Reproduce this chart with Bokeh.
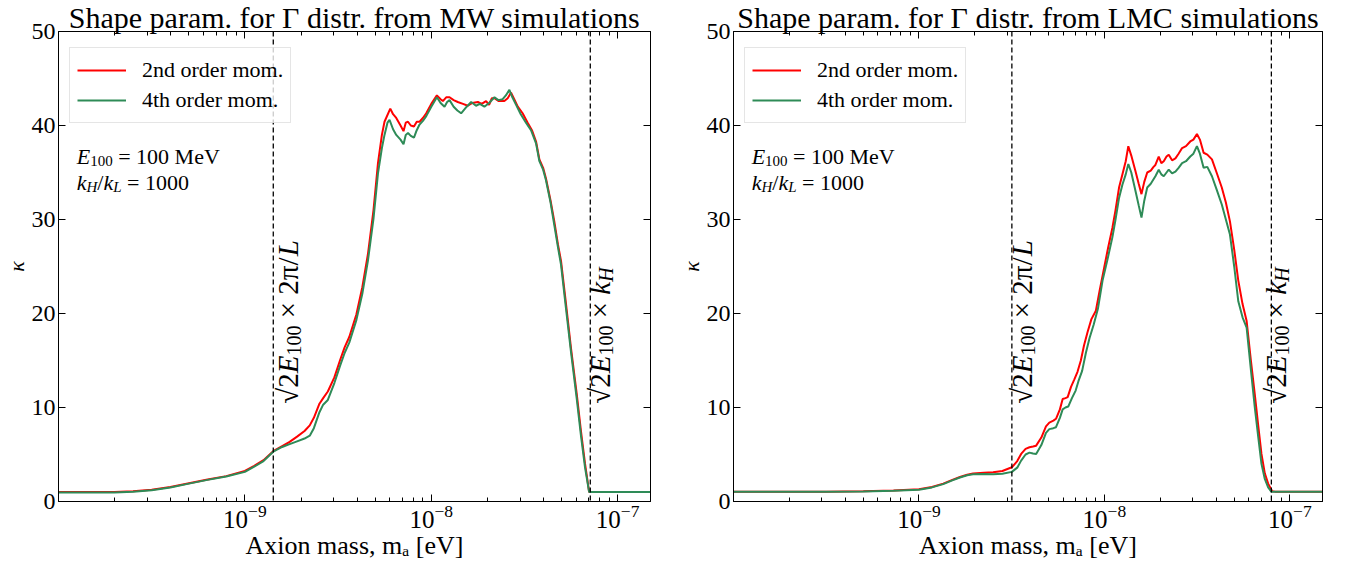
from bokeh.plotting import figure
from bokeh.models import FixedTicker, LogAxis, LinearAxis, Span, Label, Legend, LegendItem
from bokeh.layouts import row
from bokeh.embed import file_html
from bokeh.resources import INLINE

FONT = "Liberation Serif"
RED = "#ff0000"
GREEN = "#2e8b57"

# ---------------- data ----------------
X_START, X_END = 1e-10, 1.5e-7
X_MAJOR = [1e-9, 1e-8, 1e-7]
X_MINOR = [k * 1e-10 for k in range(2, 10)] + [k * 1e-9 for k in range(2, 10)] + \
          [k * 1e-8 for k in range(2, 10)]
Y_TICKS = [0, 10, 20, 30, 40, 50]

TITLES = ["Shape param. for \u0393 distr. from MW simulations",
          "Shape param. for \u0393 distr. from LMC simulations"]
X_LABEL = "Axion mass, m\u2090 [eV]"
Y_LABEL = "\u03ba"

# MW panel (log10 of axion mass in eV, kappa)
mw_red_logm = [-10.0, -9.8, -9.7, -9.6, -9.5, -9.4, -9.3, -9.2, -9.1, -9.0, -8.95, -8.9, -8.848,
               -8.80, -8.76, -8.72, -8.68, -8.652, -8.63, -8.60, -8.58, -8.555, -8.52, -8.49,
               -8.465, -8.44, -8.402, -8.37, -8.34, -8.31, -8.286, -8.265, -8.251, -8.22, -8.205,
               -8.188, -8.165, -8.149, -8.137, -8.125, -8.11, -8.093, -8.078, -8.063, -8.045,
               -8.027, -8.0, -7.97, -7.95, -7.938, -7.92, -7.902, -7.88, -7.858, -7.83, -7.804,
               -7.78, -7.75, -7.73, -7.706, -7.69, -7.675, -7.661, -7.64, -7.608, -7.59, -7.572,
               -7.555, -7.536, -7.51, -7.483, -7.46, -7.438, -7.42, -7.40, -7.385, -7.36, -7.34,
               -7.32, -7.304, -7.28, -7.251, -7.22, -7.197, -7.175, -7.153, -7.14, -6.82]
mw_red_k = [1.0, 1.0, 1.02, 1.08, 1.25, 1.55, 1.95, 2.35, 2.7, 3.25, 3.8, 4.4, 5.35,
            5.9, 6.35, 6.9, 7.5, 8.1, 8.9, 10.4, 11.0, 11.7, 13.2, 15.0,
            16.4, 17.5, 19.9, 22.8, 26.3, 31.0, 36.0, 39.0, 40.4, 41.8, 41.2,
            40.8, 40.0, 39.4, 40.3, 40.4, 40.0, 39.9, 40.4, 40.4, 40.8,
            41.3, 42.3, 43.2, 42.8, 42.6, 43.0, 43.0, 42.7, 42.5, 42.3, 42.1,
            42.4, 42.5, 42.3, 42.6, 42.2, 42.9, 42.9, 42.6, 42.6, 42.9, 43.5,
            42.8, 42.0, 41.3, 40.3, 39.5, 38.3, 36.4, 35.5, 34.4, 32.0, 29.8,
            27.3, 25.6, 21.5, 16.4, 11.5, 7.5, 4.0, 1.0, 1.0, 1.0]

mw_green_logm = [-10.0, -9.8, -9.7, -9.6, -9.5, -9.4, -9.3, -9.2, -9.1, -9.0, -8.95, -8.9, -8.848,
                 -8.80, -8.76, -8.72, -8.68, -8.652, -8.63, -8.60, -8.58, -8.555, -8.52, -8.49,
                 -8.465, -8.44, -8.402, -8.37, -8.34, -8.31, -8.286, -8.265, -8.251, -8.235, -8.224,
                 -8.205, -8.188, -8.165, -8.149, -8.137, -8.125, -8.11, -8.093, -8.078, -8.063,
                 -8.045, -8.027, -8.0, -7.97, -7.95, -7.929, -7.915, -7.902, -7.88, -7.86, -7.84,
                 -7.81, -7.786, -7.76, -7.74, -7.715, -7.69, -7.661, -7.64, -7.617, -7.60, -7.581,
                 -7.565, -7.545, -7.52, -7.492, -7.465, -7.438, -7.42, -7.40, -7.385, -7.36, -7.34,
                 -7.32, -7.304, -7.28, -7.251, -7.22, -7.197, -7.175, -7.153, -7.14, -6.82]
mw_green_k = [0.95, 0.95, 0.97, 1.03, 1.2, 1.5, 1.9, 2.3, 2.65, 3.15, 3.7, 4.3, 5.3,
              5.8, 6.1, 6.4, 6.7, 7.0, 7.8, 9.5, 10.3, 10.8, 12.6, 14.4,
              15.8, 16.9, 19.3, 22.1, 25.6, 30.1, 34.9, 37.6, 39.0, 40.3, 40.6,
              39.6, 39.0, 38.5, 38.0, 39.0, 39.2, 38.9, 38.7, 39.5, 40.1,
              40.5, 41.0, 42.0, 43.0, 42.4, 42.0, 42.5, 42.7, 42.0, 41.6, 41.3,
              42.0, 42.5, 42.1, 42.3, 42.0, 42.4, 43.0, 42.7, 42.8, 43.2, 43.8,
              43.0, 42.2, 41.2, 40.3, 39.5, 38.1, 36.2, 35.3, 34.2, 31.8, 29.4,
              27.0, 25.2, 21.0, 16.0, 11.0, 7.0, 3.6, 1.0, 1.0, 1.0]

# LMC panel
lmc_red_logm = [-10.0, -9.5, -9.3, -9.137, -9.0, -8.93, -8.869, -8.82, -8.779, -8.74, -8.708,
                -8.65, -8.60, -8.55, -8.499, -8.47, -8.449, -8.425, -8.404, -8.385, -8.368,
                -8.34, -8.315, -8.297, -8.275, -8.261, -8.24, -8.225, -8.21, -8.198, -8.18,
                -8.162, -8.145, -8.127, -8.11, -8.091, -8.07, -8.046, -8.025, -8.001, -7.98,
                -7.957, -7.94, -7.921, -7.903, -7.885, -7.871, -7.855, -7.832, -7.815, -7.8,
                -7.785, -7.769, -7.75, -7.735, -7.725, -7.707, -7.693, -7.68, -7.665, -7.653,
                -7.635, -7.617, -7.6, -7.581, -7.56, -7.537, -7.52, -7.501, -7.485, -7.465,
                -7.445, -7.42, -7.395, -7.367, -7.345, -7.323, -7.30, -7.278, -7.255, -7.233,
                -7.21, -7.189, -7.17, -7.153, -7.135, -7.117, -7.095, -7.08, -6.82]
lmc_red_k = [1.05, 1.05, 1.08, 1.17, 1.3, 1.55, 1.9, 2.3, 2.6, 2.85, 2.98,
             3.05, 3.1, 3.25, 3.64, 4.3, 5.06, 5.6, 5.77, 5.85, 5.94,
             6.8, 8.0, 8.4, 8.6, 8.8, 9.8, 10.9, 11.0, 11.1, 12.2,
             13.0, 13.8, 15.0, 16.6, 18.0, 19.4, 20.3, 22.5, 24.9, 27.0,
             29.1, 31.0, 33.4, 34.8, 36.2, 37.8, 36.8, 35.1, 33.8, 32.7,
             34.0, 35.0, 35.2, 35.6, 35.8, 36.7, 36.0, 36.2, 36.7, 36.9,
             36.3, 36.5, 37.0, 37.6, 37.8, 38.3, 38.5, 39.1, 38.5, 37.1,
             36.9, 36.4, 35.0, 33.4, 31.8, 29.8, 26.8, 23.5, 21.0, 19.2,
             15.0, 11.4, 8.0, 5.06, 3.0, 1.9, 1.1, 1.05, 1.05]

lmc_green_logm = [-10.0, -9.5, -9.3, -9.137, -9.0, -8.93, -8.869, -8.82, -8.779, -8.74, -8.708,
                  -8.65, -8.60, -8.55, -8.499, -8.47, -8.449, -8.425, -8.404, -8.385, -8.368,
                  -8.34, -8.315, -8.297, -8.275, -8.261, -8.24, -8.225, -8.21, -8.195, -8.175,
                  -8.155, -8.14, -8.12, -8.1, -8.08, -8.058, -8.035, -8.01, -7.985, -7.957,
                  -7.94, -7.921, -7.903, -7.885, -7.871, -7.855, -7.832, -7.815, -7.8, -7.785,
                  -7.769, -7.75, -7.725, -7.707, -7.693, -7.68, -7.665, -7.653, -7.635, -7.617,
                  -7.6, -7.581, -7.56, -7.537, -7.52, -7.501, -7.485, -7.465, -7.445, -7.42,
                  -7.395, -7.367, -7.345, -7.323, -7.30, -7.278, -7.255, -7.233, -7.21, -7.189,
                  -7.17, -7.153, -7.135, -7.117, -7.10, -6.82]
lmc_green_k = [1.05, 1.05, 1.07, 1.15, 1.25, 1.5, 1.85, 2.25, 2.55, 2.8, 2.9,
               2.92, 2.9, 2.95, 3.15, 3.6, 4.35, 5.0, 5.2, 5.1, 5.06,
               6.0, 7.3, 7.7, 7.8, 7.9, 8.9, 9.8, 10.0, 10.1, 11.0,
               11.8, 12.8, 13.9, 15.8, 17.4, 18.8, 20.5, 23.5, 25.6, 28.1,
               30.0, 32.3, 33.7, 34.8, 35.9, 35.0, 33.0, 31.5, 30.2, 32.0,
               33.4, 33.8, 34.6, 35.3, 34.8, 34.6, 35.0, 35.3, 34.9, 35.1,
               35.5, 36.0, 36.2, 36.7, 37.0, 37.8, 37.0, 35.5, 35.6, 34.6,
               33.2, 31.6, 30.0, 28.4, 25.0, 21.3, 19.6, 18.5, 14.0, 10.0,
               6.8, 4.0, 2.4, 1.5, 1.05, 1.05]

MW_DASHES = [1.42e-9, 7.13e-8]
LMC_DASHES = [3.17e-9, 7.95e-8]

# ---------------- text helpers ----------------
REG_W = {' ': 0.25, '=': 0.564, '\u00d7': 0.564, '\u221a': 0.549, '\u03c0': 0.55, '/': 0.278,
         'M': 0.889, 'e': 0.444, 'V': 0.722}
for d in "0123456789":
    REG_W[d] = 0.5
ITA_W = {'E': 0.611, 'k': 0.444, 'H': 0.722, 'L': 0.556}


def text_width(text, size, style):
    table = ITA_W if style == "italic" else REG_W
    return sum(table.get(c, 0.5) for c in text) * size


def add_pieces(p, x, y, pieces, angle, x0=0.0, y0=0.0):
    adv = 0.0
    for text, size, style, shift in pieces:
        lead = len(text) - len(text.lstrip(" "))
        body = text.strip(" ")
        a = adv + lead * 0.25 * size
        if angle == 0:
            xo, yo = x0 + a, y0 + shift
        else:
            xo, yo = x0 - shift, y0 + a
        p.add_layout(Label(x=x, y=y, x_offset=xo, y_offset=yo, text=body,
                           angle=angle, angle_units="deg", text_font=FONT,
                           text_font_size=f"{size}px", text_font_style=style,
                           text_baseline="alphabetic", text_align="left",
                           text_color="black"))
        adv += text_width(text, size, style)


def make_panel(title, red_logm, red_k, green_logm, green_k, dashes, dash_offsets,
               width, border_left, border_right):
    p = figure(x_axis_type="log", x_range=(X_START, X_END), y_range=(0, 50),
               width=width, height=570, output_backend="svg", toolbar_location=None,
               min_border_left=border_left, min_border_right=border_right,
               min_border_top=30, min_border_bottom=69, title=title)
    p.grid.visible = False
    p.outline_line_color = "black"
    p.background_fill_color = "white"
    p.border_fill_color = "white"

    p.title.text_font = FONT
    p.title.text_font_size = "30px"
    p.title.text_font_style = "normal"
    p.title.text_color = "black"
    p.title.align = "center"
    p.title.standoff = -4

    xa = p.below[0]
    xa.ticker = FixedTicker(ticks=X_MAJOR, minor_ticks=X_MINOR)
    xa.axis_label = X_LABEL
    ya = p.left[0]
    ya.ticker = FixedTicker(ticks=Y_TICKS, minor_ticks=[])
    ya.axis_label = Y_LABEL
    for ax in (xa, ya):
        ax.major_label_text_font = FONT
        ax.major_label_text_font_size = "24px"
        ax.major_label_text_color = "black"
        ax.axis_label_text_font = FONT
        ax.axis_label_text_color = "black"
        ax.major_tick_in = 7
        ax.major_tick_out = 0
        ax.minor_tick_in = 4
        ax.minor_tick_out = 0
        ax.axis_line_color = "black"
        ax.major_tick_line_color = "black"
        ax.minor_tick_line_color = "black"
        ax.major_label_standoff = 3
        ax.axis_label_standoff = 0
    xa.axis_label_text_font_size = "26px"
    xa.axis_label_text_font_style = "normal"
    xa.major_label_text_font_size = "25px"
    ya.axis_label_text_font_size = "22px"
    ya.axis_label_text_font_style = "italic"

    xt = LogAxis(ticker=FixedTicker(ticks=X_MAJOR, minor_ticks=X_MINOR),
                 major_label_text_font_size="0px", major_label_text_color=None,
                 major_label_standoff=0, major_tick_in=7, major_tick_out=0,
                 minor_tick_in=4, minor_tick_out=0, axis_line_color="black")
    p.add_layout(xt, "above")
    yr = LinearAxis(ticker=FixedTicker(ticks=Y_TICKS, minor_ticks=[]),
                    major_label_text_font_size="0px", major_label_text_color=None,
                    major_label_standoff=0, major_tick_in=7, major_tick_out=0,
                    axis_line_color="black")
    p.add_layout(yr, "right")

    r_red = p.line([10 ** v for v in red_logm], red_k, line_color=RED, line_width=2)
    r_green = p.line([10 ** v for v in green_logm], green_k, line_color=GREEN, line_width=2)

    for d in dashes:
        p.add_layout(Span(location=d, dimension="height", line_color="black",
                          line_width=1.3, line_dash="5 3"))

    legend = Legend(items=[LegendItem(label="2nd order mom.", renderers=[r_red]),
                           LegendItem(label="4th order mom.", renderers=[r_green])],
                    location=(11, 378), label_text_font=FONT, label_text_font_size="22px",
                    label_text_color="black", glyph_width=49, glyph_height=30,
                    label_height=30, label_standoff=16, padding=7, spacing=0, margin=0,
                    border_line_color="#cccccc", border_line_width=1,
                    background_fill_alpha=0.8)
    p.add_layout(legend)

    # annotations
    xa_pos = 10 ** -9.902
    add_pieces(p, xa_pos, 36.7, [("E", 22, "italic", 0), ("100", 15, "normal", -4),
                                 (" = 100 MeV", 22, "normal", 0)], 0)
    add_pieces(p, xa_pos, 33.9, [("k", 22, "italic", 0), ("H", 15, "italic", -4),
                                 ("/", 22, "normal", 0), ("k", 22, "italic", 0),
                                 ("L", 15, "italic", -4), (" = 1000", 22, "normal", 0)], 0)

    add_pieces(p, dashes[0], 10.4, [("\u221a2", 29, "normal", 0), ("E", 29, "italic", 0),
                                    ("100", 20, "normal", -6), (" \u00d7 2\u03c0/", 29, "normal", 0),
                                    ("L", 29, "italic", 0)], 90, x0=dash_offsets[0])
    add_pieces(p, dashes[1], 10.4, [("\u221a2", 29, "normal", 0), ("E", 29, "italic", 0),
                                    ("100", 20, "normal", -6), (" \u00d7 ", 29, "normal", 0),
                                    ("k", 29, "italic", 0), ("H", 20, "italic", -6)], 90,
                x0=dash_offsets[1])
    return p


p1 = make_panel(TITLES[0], mw_red_logm, mw_red_k, mw_green_logm, mw_green_k,
                MW_DASHES, [15, 10], 675, 57, 25)
p2 = make_panel(TITLES[1], lmc_red_logm, lmc_red_k, lmc_green_logm, lmc_green_k,
                LMC_DASHES, [10, 5], 674, 54, 27)

layout = row(p1, p2)
open("out.html", "w").write(file_html(layout, INLINE))
